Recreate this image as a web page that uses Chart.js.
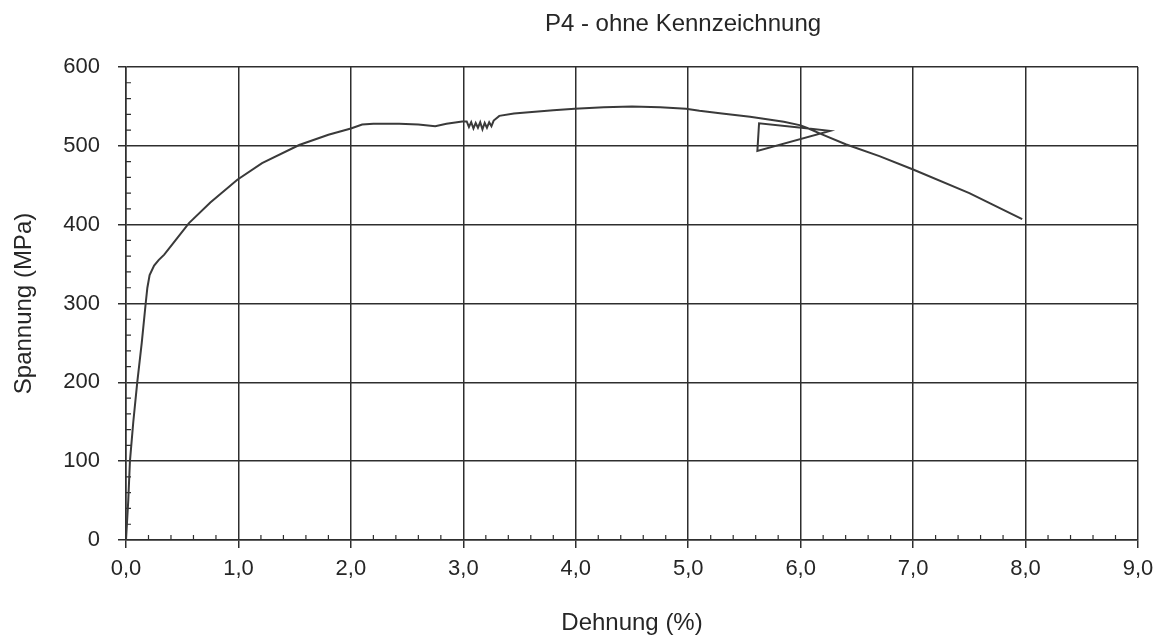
<!DOCTYPE html>
<html>
<head>
<meta charset="utf-8">
<title>P4 - ohne Kennzeichnung</title>
<script src="https://cdn.jsdelivr.net/npm/chart.js@4.4.1/dist/chart.umd.min.js"></script>
<style>
  html, body { margin: 0; padding: 0; background: #fff; }
</style>
</head>
<body>
<canvas id="chart" width="1170" height="644"></canvas>
<script>
// Stress-strain curve (strain in %, stress in MPa)
const strain = [
    0, 0.02, 0.035, 0.065, 0.10, 0.14, 0.175, 0.19, 0.21, 0.25, 0.29, 0.34, 0.45, 0.56, 0.75, 0.99,
    1.21, 1.54, 1.8, 2.0, 2.1, 2.2, 2.43, 2.6, 2.75, 2.85, 2.99,
    3.03, 3.05, 3.07, 3.09, 3.11, 3.13, 3.15, 3.17, 3.19, 3.21, 3.23, 3.25, 3.27,
    3.32, 3.45, 3.61, 3.8, 3.99, 4.25, 4.5, 4.75, 4.98, 5.1, 5.3, 5.55, 5.85, 6.0,
    6.07, 6.26, 5.615, 5.63, 6.07,          // unload / reload loop
    6.2, 6.4, 6.7, 7.0, 7.5, 7.97
];
const stress = [
    0, 50, 100, 150, 200, 250, 300, 320, 336, 348, 355, 362, 382, 402, 428, 457,
    478, 501, 514, 522, 527, 528, 528, 527, 525, 528, 531,
    531, 524, 530, 522, 529, 523, 530, 521, 529, 523, 530, 525, 532,
    538, 541, 543, 545, 547, 549, 550, 549, 547, 544.5, 541, 537, 530.5, 526,
    522, 519, 493.5, 528.6, 522,
    514, 502, 487, 470, 440, 407
];

// Axis tick labels (German decimal comma)
const xTickLabels = ['0,0', '1,0', '2,0', '3,0', '4,0', '5,0', '6,0', '7,0', '8,0', '9,0'];
const yTickLabels = ['0', '100', '200', '300', '400', '500', '600'];

const chartTitle = 'P4 - ohne Kennzeichnung';
const xTitle = 'Dehnung (%)';
const yTitle = 'Spannung (MPa)';

const lineCol = '#2e2e2e';
const textCol = '#262626';
const fontFam = '"Liberation Sans", Arial, sans-serif';

// small inward ticks between the grid lines (0.2 % and 20 MPa)
const minorTicks = {
    id: 'minorTicks',
    beforeDatasetsDraw(chart) {
        const { ctx, chartArea, scales } = chart;
        ctx.save();
        ctx.strokeStyle = lineCol;
        ctx.lineWidth = 1.2;
        ctx.beginPath();
        for (let i = 1; i < 45; i++) {
            if (i % 5 === 0) continue;
            const px = scales.x.getPixelForValue(i * 0.2);
            ctx.moveTo(px, chartArea.bottom);
            ctx.lineTo(px, chartArea.bottom - 5);
        }
        for (let i = 1; i < 30; i++) {
            if (i % 5 === 0) continue;
            const py = scales.y.getPixelForValue(i * 20);
            ctx.moveTo(chartArea.left, py);
            ctx.lineTo(chartArea.left + 5, py);
        }
        ctx.stroke();
        ctx.restore();
    }
};

// title sits a bit right of centre in the original
const topTitle = {
    id: 'topTitle',
    afterDraw(chart) {
        const { ctx } = chart;
        ctx.save();
        ctx.font = '24px ' + fontFam;
        ctx.fillStyle = textCol;
        ctx.textAlign = 'center';
        ctx.textBaseline = 'middle';
        ctx.fillText(chartTitle, 683, 24);
        ctx.restore();
    }
};

const ctx = document.getElementById('chart').getContext('2d');

new Chart(ctx, {
    type: 'scatter',
    data: {
        datasets: [{
            data: strain.map((x, i) => ({ x: x, y: stress[i] })),
            showLine: true,
            borderColor: '#3a3a3a',
            borderWidth: 2,
            pointRadius: 0,
            tension: 0,
            fill: false
        }]
    },
    options: {
        responsive: false,
        animation: false,
        layout: { padding: { left: 0, top: 67, right: 32, bottom: 0 } },
        plugins: {
            legend: { display: false },
            tooltip: { enabled: false },
            title: { display: false }
        },
        scales: {
            x: {
                type: 'linear',
                min: 0,
                max: 9,
                afterFit: scale => { scale.height = 104; },
                ticks: {
                    stepSize: 1,
                    padding: 8,
                    color: textCol,
                    font: { family: fontFam, size: 22 },
                    maxRotation: 0,
                    callback: (v, i) => xTickLabels[i]
                },
                grid: { color: lineCol, lineWidth: 1.5, tickLength: 8 },
                border: { color: lineCol, width: 1.5 },
                title: {
                    display: true,
                    text: xTitle,
                    color: textCol,
                    font: { family: fontFam, size: 24 },
                    padding: { top: 0, bottom: 6 }
                }
            },
            y: {
                min: 0,
                max: 600,
                afterFit: scale => { scale.width = 126; },
                ticks: {
                    stepSize: 100,
                    padding: 18,
                    color: textCol,
                    font: { family: fontFam, size: 22 },
                    callback: (v, i) => yTickLabels[i]
                },
                grid: { color: lineCol, lineWidth: 1.5, tickLength: 8 },
                border: { color: lineCol, width: 1.5 },
                title: {
                    display: true,
                    text: yTitle,
                    color: textCol,
                    font: { family: fontFam, size: 24 },
                    padding: { top: 10, bottom: 0 }
                }
            }
        }
    },
    plugins: [minorTicks, topTitle]
});
</script>
</body>
</html>
